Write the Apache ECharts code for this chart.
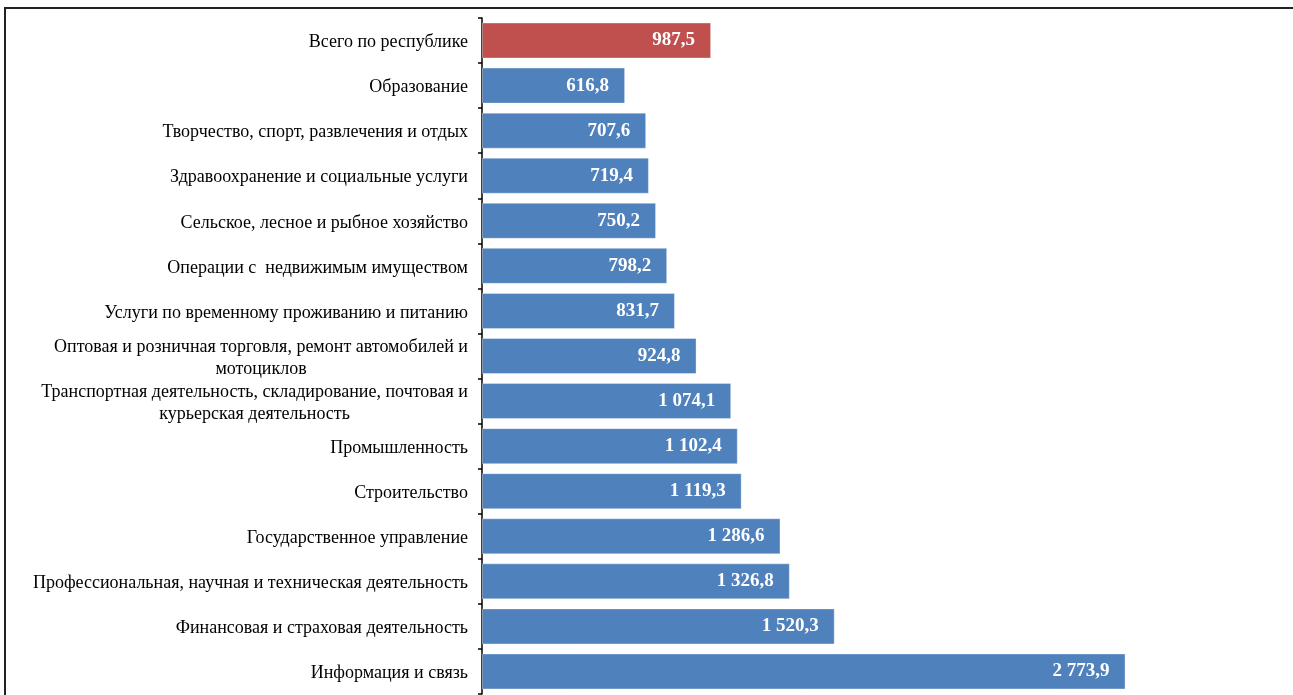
<!DOCTYPE html>
<html>
<head>
<meta charset="utf-8">
<script src="https://cdn.jsdelivr.net/npm/echarts@6/dist/echarts.min.js"></script>
<style>
  html, body { margin: 0; padding: 0; background: #fff; }
  #box { width: 1293px; height: 695px; }
</style>
</head>
<body>
<div id="box"></div>
<script>
  // категории сверху вниз
  var categories = [
    'Всего по республике',
    'Образование',
    'Творчество, спорт, развлечения и отдых',
    'Здравоохранение и социальные услуги',
    'Сельское, лесное и рыбное хозяйство',
    'Операции с  недвижимым имуществом',
    'Услуги по временному проживанию и питанию',
    'Оптовая и розничная торговля, ремонт автомобилей и\nмотоциклов',
    'Транспортная деятельность, складирование, почтовая и\nкурьерская деятельность',
    'Промышленность',
    'Строительство',
    'Государственное управление',
    'Профессиональная, научная и техническая деятельность',
    'Финансовая и страховая деятельность',
    'Информация и связь'
  ];
  var values = [987.5, 616.8, 707.6, 719.4, 750.2, 798.2, 831.7, 924.8, 1074.1, 1102.4, 1119.3, 1286.6, 1326.8, 1520.3, 2773.9];

  function fmt(v) {
    var parts = v.toFixed(1).split('.');
    var intPart = parts[0].replace(/\B(?=(\d{3})+(?!\d))/g, ' ');
    return intPart + ',' + parts[1];
  }

  var myChart = echarts.init(document.getElementById('box'));

  var option = {
    backgroundColor: '#fff',
    animation: false,
    graphic: [{
      type: 'rect',
      shape: { x: 5, y: 8, width: 1400, height: 800 },
      style: { fill: 'none', stroke: '#222', lineWidth: 2 },
      silent: true
    }],
    grid: { left: 482, right: 115, top: 18, bottom: 1 },
    xAxis: {
      type: 'value',
      min: 0,
      max: 3000,
      show: false
    },
    yAxis: {
      type: 'category',
      inverse: true,
      data: categories,
      axisLine: { show: true, lineStyle: { color: '#000', width: 1.5 } },
      axisTick: { show: true, length: 4, lineStyle: { color: '#000', width: 1.5 } },
      axisLabel: {
        margin: 14,
        padding: [4, 0, 0, 0],
        color: '#000',
        fontFamily: 'Liberation Serif',
        fontSize: 18,
        formatter: function (val) {
          return val.split('\n').map(function (s) { return '{a|' + s + '}'; }).join('\n');
        },
        rich: {
          a: { align: 'center', fontFamily: 'Liberation Serif', fontSize: 18, color: '#000', lineHeight: 22 }
        }
      }
    },
    series: [{
      type: 'bar',
      data: values.map(function (v, i) {
        return {
          value: v,
          itemStyle: { color: i === 0 ? '#C0504D' : '#4F81BD' }
        };
      }),
      barWidth: 36,
      itemStyle: { borderColor: 'rgba(255,255,255,0.35)', borderWidth: 1 },
      label: {
        show: true,
        position: 'insideRight',
        distance: 16,
        color: '#fff',
        fontFamily: 'Liberation Serif',
        fontWeight: 'bold',
        fontSize: 19,
        formatter: function (p) { return fmt(p.value); }
      }
    }]
  };

  myChart.setOption(option);
</script>
</body>
</html>
